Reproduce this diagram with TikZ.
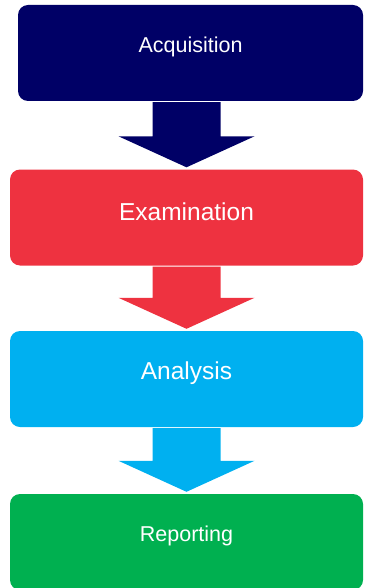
\documentclass[tikz,border=0pt]{standalone}
\usepackage{fontspec}
\setmainfont{Liberation Sans}
\usetikzlibrary{calc}
\definecolor{acqblue}{RGB}{0,0,102}
\definecolor{examred}{RGB}{238,50,64}
\definecolor{analcyan}{RGB}{0,176,240}
\definecolor{repgreen}{RGB}{0,176,80}
\tikzstyle{stage}=[draw=none,rounded corners=10pt,minimum height=96pt,inner sep=0pt]
\tikzstyle{stagetext}=[text=white,yshift=6pt]
\tikzstyle{bigtext}=[font=\fontsize{24.5}{28}\selectfont]
\tikzstyle{smalltext}=[font=\fontsize{21.5}{26}\selectfont]

\begin{document}
\begin{tikzpicture}[x=1pt,y=-1pt]
    \useasboundingbox (0,0) rectangle (364,588);

    % the four stages
    \foreach \pos/\name/\w/\col/\fnt/\txt in {{(190.5,53)/acq/345/acqblue/smalltext/Acquisition},
        {(186.5,217.5)/exam/353/examred/bigtext/Examination}, {(186.5,379)/anal/353/analcyan/bigtext/Analysis},
        {(186.5,542)/rep/353/repgreen/smalltext/Reporting}}
        \node[stage,fill=\col,minimum width=\w pt,label={[stagetext,\fnt]center:\txt}] (\name) at \pos {};

    % block arrows between the stages
    \foreach \src/\dst/\col in {acq/exam/acqblue, exam/anal/examred, anal/rep/analcyan}
        \fill[\col] ($(\dst.north |- \src.south)+(-34,1)$) -- ($(\dst.north)+(-34,-33)$)
            -- ($(\dst.north)+(-68,-33)$) -- ($(\dst.north)+(0,-2)$) -- ($(\dst.north)+(68,-33)$)
            -- ($(\dst.north)+(34,-33)$) -- ($(\dst.north |- \src.south)+(34,1)$) -- cycle;

\end{tikzpicture}
\end{document}
